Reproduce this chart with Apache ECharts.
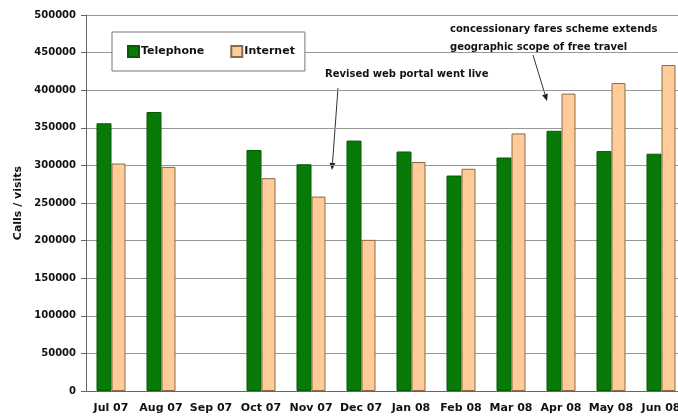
<!DOCTYPE html>
<html>
<head>
<meta charset="utf-8">
<script src="https://cdn.jsdelivr.net/npm/echarts@6/dist/echarts.min.js"></script>
<style>
	html, body { margin: 0; padding: 0; background: #fff; overflow: hidden; }
	/* plot runs a little past the right edge, as in the original */
	#chart { width: 686px; height: 417px; }
</style>
</head>
<body>
<div id="chart"></div>
<script>
var months = ['Jul 07', 'Aug 07', 'Sep 07', 'Oct 07', 'Nov 07', 'Dec 07', 'Jan 08', 'Feb 08', 'Mar 08', 'Apr 08', 'May 08', 'Jun 08'];
var telephone = [356000, 371000, null, 320500, 301500, 333000, 318500, 286500, 310500, 346000, 319000, 315500];
var internet = [302500, 298000, null, 283000, 258500, 201000, 304500, 295500, 342500, 395500, 409500, 433500];
var yTicks = [0, 500000, 50000];  // min, max, interval

var font = 'DejaVu Sans';

// arrow made of a line and a small head
function arrow(x1, y1, x2, y2){
	var a = Math.atan2(y2 - y1, x2 - x1), len = 7, w = 3;
	var bx = x2 - len * Math.cos(a), by = y2 - len * Math.sin(a);
	return [
		{ type: 'line', shape: { x1: x1, y1: y1, x2: bx, y2: by }, style: { stroke: '#333', lineWidth: 1 } },
		{ type: 'polygon', shape: { points: [[x2, y2], [bx - w * Math.sin(a), by + w * Math.cos(a)], [bx + w * Math.sin(a), by - w * Math.cos(a)]] }, style: { fill: '#222' } }
	];
}

var chart = echarts.init(document.getElementById('chart'));
chart.setOption({
	animation: false,
	textStyle: { fontFamily: font },
	grid: {
		left: 86,
		right: 0,
		top: 15,
		bottom: 26
	},
	legend: {
		left: 112,
		top: 32,
		padding: [13, 10, 13, 15],
		itemGap: 26,
		itemWidth: 11,
		itemHeight: 11,
		icon: 'rect',
		backgroundColor: '#fff',
		borderColor: '#777',
		borderWidth: 1,
		textStyle: { fontFamily: font, fontSize: 11, fontWeight: 'bold', color: '#111', padding: [0, 0, 0, -3] },
		data: ['Telephone', 'Internet']
	},
	xAxis: {
		type: 'category',
		data: months,
		axisLine: { lineStyle: { color: '#666' } },
		axisTick: { length: 4, lineStyle: { color: '#666' } },
		axisLabel: { interval: 0, margin: 12, fontSize: 11, fontWeight: 'bold', color: '#111' }
	},
	yAxis: {
		type: 'value',
		min: yTicks[0],
		max: yTicks[1],
		interval: yTicks[2],
		name: 'Calls / visits',
		nameLocation: 'middle',
		nameGap: 62,
		nameTextStyle: { fontSize: 11, fontWeight: 'bold', color: '#111' },
		axisLine: { show: true, lineStyle: { color: '#666' } },
		axisTick: { show: true, length: 5, lineStyle: { color: '#666' } },
		axisLabel: {
			margin: 10, fontSize: 10, fontWeight: 'bold', color: '#111',
			formatter: function(v){ return String(v); }
		},
		splitLine: { lineStyle: { color: '#999' } }
	},
	series: [
		{
			name: 'Telephone',
			type: 'bar',
			data: telephone,
			barWidth: 15,
			barGap: '0%',
			itemStyle: { color: '#087a08', borderColor: '#055a05', borderWidth: 1 }
		},
		{
			name: 'Internet',
			type: 'bar',
			data: internet,
			barWidth: 14,
			itemStyle: { color: '#ffcc99', borderColor: '#8a6a4a', borderWidth: 1 }
		}
	],
	graphic: [
		{ type: 'text', left: 325, top: 69, style: { text: 'Revised web portal went live', font: 'bold 10px ' + font, fill: '#111' } },
		{ type: 'text', left: 450, top: 20, style: { text: 'concessionary fares scheme extends\ngeographic scope of free travel', font: 'bold 10px ' + font, fill: '#111', lineHeight: 18 } }
	].concat(arrow(338, 88, 332, 170), arrow(533, 55, 547, 101))
});
</script>
</body>
</html>
